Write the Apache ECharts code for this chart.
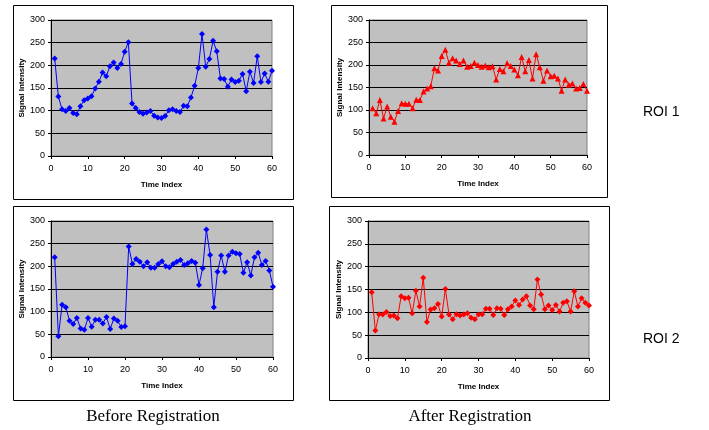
<!DOCTYPE html>
<html>
<head>
<meta charset="utf-8">
<script src="https://cdn.jsdelivr.net/npm/echarts@6/dist/echarts.min.js"></script>
<style>
html,body{margin:0;padding:0;background:#fff;}
#c{width:709px;height:430px;}
</style>
</head>
<body>
<div id="c"></div>
<script>
var timeIndex = [1,2,3,4,5,6,7,8,9,10,11,12,13,14,15,16,17,18,19,20,21,22,23,24,25,26,27,28,29,30,31,32,33,34,35,36,37,38,39,40,41,42,43,44,45,46,47,48,49,50,51,52,53,54,55,56,57,58,59,60];
var yTicks = [0,50,100,150,200,250,300];
var xTicks = [0,10,20,30,40,50,60];

var beforeROI1 = [215,131,103,99,106,95,92,110,123,127,132,149,164,184,176,198,206,194,203,230,251,116,106,97,93,96,99,89,85,84,88,101,103,99,97,111,110,129,155,194,269,197,214,254,231,171,170,153,169,163,166,181,143,186,161,220,163,182,164,188];
var afterROI1 = [104,93,122,81,108,85,74,98,115,114,114,104,123,122,141,148,153,193,188,220,234,205,215,210,202,210,196,198,205,200,196,199,195,197,168,191,186,204,198,190,177,218,186,211,170,224,195,165,188,175,176,170,143,168,156,159,148,149,158,143];
var beforeROI2 = [220,46,115,110,80,73,86,63,60,86,67,82,82,74,88,62,85,80,66,68,244,205,216,210,200,209,197,197,205,211,200,198,205,210,214,203,207,212,208,159,196,281,225,110,188,224,188,224,232,229,227,186,209,180,220,230,203,212,191,155];
var afterROI2 = [144,60,96,95,101,92,93,87,135,131,132,98,147,113,176,79,106,109,118,91,151,95,85,96,93,95,98,88,85,95,96,108,108,94,109,108,94,107,113,126,116,128,135,115,107,172,139,107,115,105,116,102,121,124,102,146,113,131,121,115];

var rowLabels = ['ROI 1','ROI 2'];
var colLabels = ['Before Registration','After Registration'];

function pairs(vals){ return timeIndex.map(function(t,i){return [t, vals[i]];}); }

var grids = [
  {left:51, top:20, width:221, height:136},
  {left:369, top:20, width:218, height:135},
  {left:51, top:221, width:222, height:136},
  {left:368, top:221, width:221, height:137}
];
var frames = [
  {x:13.5, y:5.5, width:280, height:194},
  {x:331.5, y:5.5, width:276, height:192},
  {x:13.5, y:206.5, width:280, height:194},
  {x:329.5, y:206.5, width:280, height:194}
];
var seriesData = [beforeROI1, afterROI1, beforeROI2, afterROI2];
var colors = ['#0000FF','#FF0000','#0000FF','#FF0000'];
var symbols = ['diamond','triangle','diamond','diamond'];

var labelFont = {fontFamily:'Liberation Sans, Arial, sans-serif', fontSize:9, color:'#000'};

var option = {
  animation:false,
  backgroundColor:'#fff',
  grid: grids.map(function(g){return Object.assign({show:true, backgroundColor:'#C0C0C0', borderColor:'#808080', borderWidth:1}, g);}),
  xAxis: grids.map(function(g,i){return {
    gridIndex:i, type:'value', min:0, max:60, interval:10,
    name:'Time Index', nameLocation:'middle', nameGap:25,
    nameTextStyle:{fontFamily:'Liberation Sans, Arial, sans-serif', fontSize:8, fontWeight:'bold', color:'#000'},
    axisLine:{lineStyle:{color:'#000', width:1}},
    axisTick:{show:true, length:3, lineStyle:{color:'#000'}},
    axisLabel:Object.assign({margin:8}, labelFont),
    splitLine:{show:false}
  };}),
  yAxis: grids.map(function(g,i){return {
    gridIndex:i, type:'value', min:0, max:300, interval:50,
    name:'Signal Intensity', nameLocation:'middle', nameGap:25, nameRotate:90,
    nameTextStyle:{fontFamily:'Liberation Sans, Arial, sans-serif', fontSize:8, fontWeight:'bold', color:'#000'},
    axisLine:{show:true, lineStyle:{color:'#000', width:1}},
    axisTick:{show:true, length:3, lineStyle:{color:'#000'}},
    axisLabel:Object.assign({margin:6}, labelFont),
    splitLine:{show:true, lineStyle:{color:'#000', width:1}}
  };}),
  series: seriesData.map(function(d,i){return {
    type:'line', xAxisIndex:i, yAxisIndex:i, data:pairs(d),
    symbol:symbols[i], symbolSize: 6,
    showAllSymbol:true,
    lineStyle:{color:colors[i], width:1},
    itemStyle:{color:colors[i]},
    z:5
  };}),
  graphic: frames.map(function(f){return {type:'rect', shape:f, style:{fill:null, stroke:'#000', lineWidth:1}, z:0, silent:true};}).concat([
    {type:'text', left:643, top:105, style:{text:rowLabels[0], font:'14px "Liberation Sans", Arial, sans-serif', fill:'#000'}},
    {type:'text', left:643, top:332, style:{text:rowLabels[1], font:'14px "Liberation Sans", Arial, sans-serif', fill:'#000'}},
    {type:'text', x:153, y:408, style:{text:colLabels[0], font:'17px "Liberation Serif", "Times New Roman", serif', fill:'#000', textAlign:'center'}},
    {type:'text', x:470, y:408, style:{text:colLabels[1], font:'17px "Liberation Serif", "Times New Roman", serif', fill:'#000', textAlign:'center'}}
  ])
};

var chart = echarts.init(document.getElementById('c'), null, {renderer:'canvas'});
chart.setOption(option);
</script>
</body>
</html>
